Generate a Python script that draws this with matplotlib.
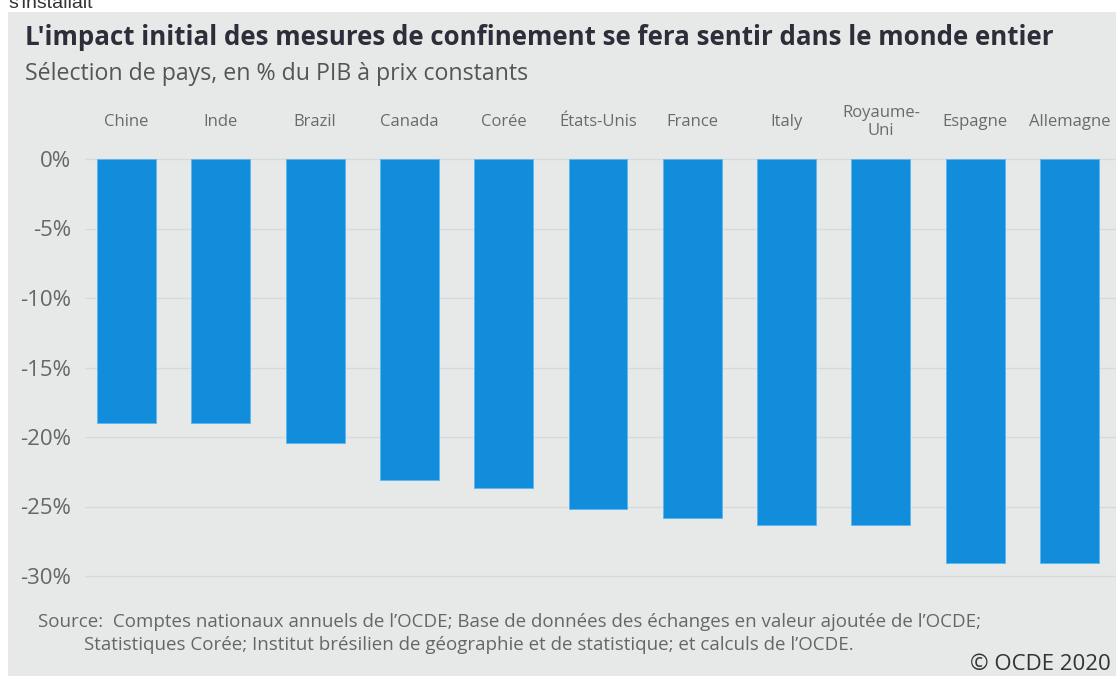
import matplotlib
matplotlib.use("Agg")
import matplotlib.pyplot as plt
from matplotlib.patches import Rectangle
import matplotlib.transforms as mtransforms

pays = ["Chine", "Inde", "Brazil", "Canada", "Corée", "États-Unis", "France",
        "Italy", "Royaume-\nUni", "Espagne", "Allemagne"]
impact = [-19.0, -19.0, -20.4, -23.1, -23.7, -25.2, -25.8, -26.3, -26.3, -29.1, -29.1]
ticks = [0, -5, -10, -15, -20, -25, -30]
tick_labels = ["0%", "-5%", "-10%", "-15%", "-20%", "-25%", "-30%"]

titre = "L'impact initial des mesures de confinement se fera sentir dans le monde entier"
sous_titre = "Sélection de pays, en % du PIB à prix constants"
source1 = "Source:  Comptes nationaux annuels de l’OCDE; Base de données des échanges en valeur ajoutée de l’OCDE;"
source2 = "Statistiques Corée; Institut brésilien de géographie et de statistique; et calculs de l’OCDE."

W, H = 1116, 676
fig = plt.figure(figsize=(W / 100, H / 100), dpi=100, facecolor="white")

# gray panel behind the chart
fig.patches.append(Rectangle((8 / W, 0), 1 - 8 / W, 1 - 12 / H, transform=fig.transFigure,
                             facecolor="#e7e9e9", edgecolor="none", zorder=-10))

# cut-off text from the page above
fig.text(8 / W, 1 - 8 / H, "s'installait", fontsize=14, family="Liberation Sans",
         color="#333333", va="baseline", ha="left")

ax = fig.add_axes([85 / W, 1 - 600 / H, (W - 85) / W, 450 / H])
ax.set_facecolor("none")
ax.set_zorder(5)

x = list(range(len(pays)))
ax.bar(x, impact, width=0.625, color="#118ddb", edgecolor="#5ab8f0", linewidth=0.6, zorder=3)

# x: center 0 at 126.5px, 94.3px per bar
ax.set_xlim((85 - 126.5) / 94.3, (W - 126.5) / 94.3)
ax.set_ylim(-(600 - 159) / 13.9, (159 - 150) / 13.9)

ax.set_yticks(ticks)
ax.set_yticklabels(tick_labels, fontsize=16, family="Open Sans", color="#666666")
ax.tick_params(axis="y", length=0, pad=10)
ax.set_xticks([])
ax.grid(axis="y", color="#d6dada", linewidth=1, zorder=1)
for s in ax.spines.values():
    s.set_visible(False)

trans = mtransforms.blended_transform_factory(ax.transData, fig.transFigure)
for i, p in enumerate(pays):
    ax.text(i, 1 - 122 / H, p, transform=trans, ha="center", va="center",
            fontsize=12, family="Open Sans", color="#6a6a6a", linespacing=1.1)

fig.text(25 / W, 1 - 45 / H, titre, fontsize=18.6, family="Open Sans", weight="bold",
         color="#2e2e3a", va="baseline", ha="left")
fig.text(25 / W, 1 - 80 / H, sous_titre, fontsize=16.7, family="Open Sans",
         color="#555555", va="baseline", ha="left")

fig.text(38 / W, 1 - 622 / H, source1, fontsize=13.5, family="Open Sans",
         color="#666666", va="center", ha="left")
fig.text(84 / W, 1 - 645 / H, source2, fontsize=13.5, family="Open Sans",
         color="#666666", va="center", ha="left")
fig.text(1111 / W, 1 - 664 / H, "© OCDE 2020", fontsize=16, family="Open Sans",
         color="#333333", va="center", ha="right")

fig.savefig("out.png", dpi=100, facecolor=fig.get_facecolor())
